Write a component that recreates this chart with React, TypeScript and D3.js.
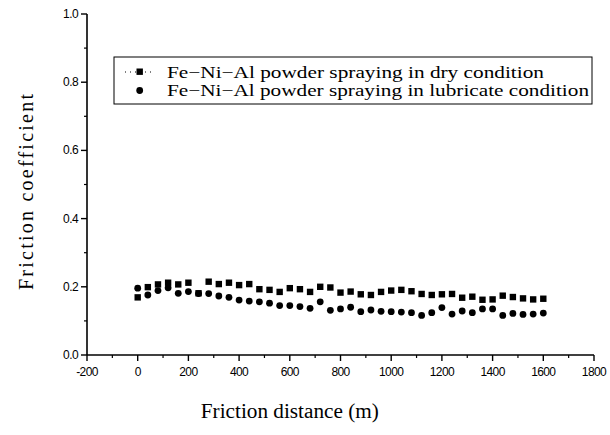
import React from 'react';
import * as d3 from 'd3';

const distances = d3.range(0, 1601, 40);

const dryValues = [
  0.169, 0.199, 0.207, 0.212, 0.207, 0.212, 0.181, 0.215, 0.208, 0.212,
  0.205, 0.208, 0.193, 0.191, 0.185, 0.196, 0.193, 0.185, 0.2, 0.198,
  0.183, 0.186, 0.178, 0.176, 0.185, 0.189, 0.191, 0.187, 0.179, 0.176,
  0.178, 0.179, 0.168, 0.171, 0.162, 0.163, 0.174, 0.17, 0.166, 0.163,
  0.165,
];

const lubValues = [
  0.196, 0.176, 0.189, 0.197, 0.181, 0.186, 0.18, 0.18, 0.173, 0.169,
  0.161, 0.158, 0.156, 0.152, 0.145, 0.145, 0.142, 0.137, 0.156, 0.131,
  0.135, 0.14, 0.127, 0.132, 0.128, 0.127, 0.126, 0.124, 0.116, 0.124,
  0.139, 0.12, 0.129, 0.124, 0.135, 0.135, 0.116, 0.122, 0.119, 0.12,
  0.123,
];

const xTicks = d3.range(-200, 1801, 200);
const xMinor = d3.range(-100, 1800, 200);
const yTicks = d3.range(0, 1.01, 0.2);
const yMinor = d3.range(0.1, 1, 0.2);

const legendLabels = [
  'Fe\u2212Ni\u2212Al powder spraying in dry condition',
  'Fe\u2212Ni\u2212Al powder spraying in lubricate condition',
];

const serif: React.CSSProperties = { fontFamily: "'Liberation Serif', 'Times New Roman', serif", fontWeight: 400 };
const sans: React.CSSProperties = { fontFamily: "'Liberation Sans', Arial, sans-serif" };

export default function App() {
  const width = 610;
  const height = 435;
  const x = d3.scaleLinear().domain([-200, 1800]).range([87, 594]);
  const y = d3.scaleLinear().domain([0, 1]).range([355, 14]);
  const x0 = x(-200);
  const y0 = y(0);

  return (
    <svg
      width={width}
      height={height}
      style={{ position: 'absolute', left: 0, top: 0, background: '#fff' }}
    >
      {/* axes */}
      <line x1={x0} x2={x0} y1={y(1)} y2={y0} stroke="#000" strokeWidth={1.6} />
      <line x1={x0} x2={x(1800)} y1={y0} y2={y0} stroke="#000" strokeWidth={1.6} />

      {xTicks.map((t) => (
        <g key={'xt' + t}>
          <line x1={x(t)} x2={x(t)} y1={y0} y2={y0 + 6} stroke="#000" strokeWidth={1.4} />
          <text x={x(t)} y={y0 + 21} textAnchor="middle" style={sans} fontSize={12} letterSpacing={-0.6}>
            {t}
          </text>
        </g>
      ))}
      {xMinor.map((t) => (
        <line key={'xm' + t} x1={x(t)} x2={x(t)} y1={y0} y2={y0 + 3} stroke="#000" strokeWidth={1.2} />
      ))}

      {yTicks.map((t) => (
        <g key={'yt' + t}>
          <line x1={x0 - 6} x2={x0} y1={y(t)} y2={y(t)} stroke="#000" strokeWidth={1.4} />
          <text x={x0 - 9} y={y(t) + 4} textAnchor="end" style={sans} fontSize={12} letterSpacing={-0.6}>
            {t.toFixed(1)}
          </text>
        </g>
      ))}
      {yMinor.map((t) => (
        <line key={'ym' + t} x1={x0 - 3} x2={x0} y1={y(t)} y2={y(t)} stroke="#000" strokeWidth={1.2} />
      ))}

      {/* data */}
      {distances.map((d, i) => (
        <rect
          key={'s' + d}
          x={x(d) - 3.2}
          y={y(dryValues[i]) - 3.2}
          width={6.4}
          height={6.4}
          fill="#000"
        />
      ))}
      {distances.map((d, i) => (
        <circle key={'c' + d} cx={x(d)} cy={y(lubValues[i])} r={3.4} fill="#000" />
      ))}

      {/* legend */}
      <rect x={114} y={57} width={478} height={47} fill="none" stroke="#000" strokeWidth={1} />
      <line x1={125} x2={155} y1={72} y2={72} stroke="#000" strokeWidth={1} strokeDasharray="1,4" />
      <rect x={136.5} y={68.5} width={6.4} height={6.4} fill="#000" />
      <circle cx={139.7} cy={90.5} r={3.4} fill="#000" />
      {legendLabels.map((l, i) => (
        <text
          key={l}
          x={167}
          y={78 + i * 18}
          style={serif}
          fontSize={17}
          textLength={i === 0 ? 377 : 422}
          lengthAdjust="spacingAndGlyphs"
        >
          {l}
        </text>
      ))}

      {/* axis titles */}
      <text
        x={x(600)}
        y={418}
        textAnchor="middle"
        style={serif}
        fontSize={20}
        textLength={178}
        lengthAdjust="spacingAndGlyphs"
      >
        Friction distance (m)
      </text>
      <text
        transform="translate(33, 192) rotate(-90)"
        textAnchor="middle"
        style={serif}
        fontSize={20}
        textLength={196}
        lengthAdjust="spacing"
      >
        Friction coefficient
      </text>
    </svg>
  );
}
